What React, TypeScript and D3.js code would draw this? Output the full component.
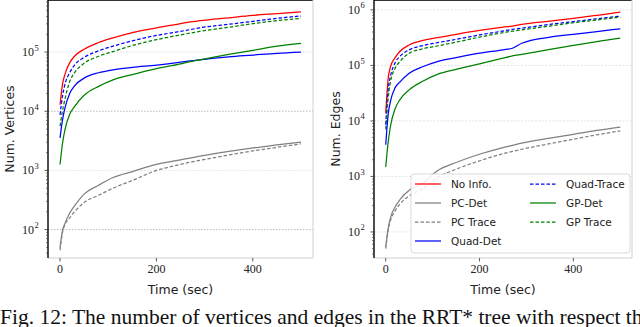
import React from "react";
import * as d3 from "d3";

// time stamps (sec) shared by every series
const time = [0, 5, 10, 20, 30, 50, 80, 110, 150, 200, 250, 270, 290, 350, 400, 450, 500];

// number of vertices
const vNoInfo = [12900, 28200, 41700, 66100, 85100, 112000, 145000, 174000, 214000, 257000, 302000, 324000, 339000, 380000, 417000, 447000, 479000];
const vPcDet = [50, 95, 126, 191, 251, 398, 562, 759, 955, 1260, 1510, 1620, 1740, 2090, 2400, 2690, 3020];
const vPcTrace = [45, 89, 120, 158, 200, 288, 380, 501, 676, 1000, 1260, 1380, 1480, 1820, 2140, 2450, 2820];
const vQuadDet = [3550, 7080, 11200, 20000, 26900, 36300, 44700, 50100, 55000, 60300, 67600, 70800, 74100, 83200, 89100, 95500, 100000];
const vQuadTrace = [8710, 17800, 28200, 44700, 60300, 81300, 105000, 126000, 155000, 191000, 224000, 240000, 257000, 295000, 331000, 372000, 407000];
const vGpDet = [1260, 2820, 4790, 8910, 12000, 18600, 26300, 33900, 41700, 52500, 63100, 69200, 74100, 91200, 107000, 126000, 141000];
const vGpTrace = [5620, 10000, 15800, 31600, 44700, 64600, 85100, 102000, 129000, 162000, 195000, 209000, 224000, 263000, 302000, 339000, 372000];

// number of edges
const eNoInfo = [13800, 56200, 93300, 138000, 178000, 234000, 282000, 316000, 363000, 427000, 490000, 513000, 550000, 631000, 708000, 794000, 912000];
const ePcDet = [54, 112, 178, 282, 380, 562, 759, 1260, 1780, 2510, 3310, 3630, 3980, 4900, 5750, 6760, 7760];
const ePcTrace = [50, 105, 158, 240, 316, 447, 603, 955, 1350, 1910, 2570, 2820, 3090, 3890, 4680, 5620, 6610];
const eQuadDet = [3720, 12600, 22400, 39800, 50100, 72400, 95500, 117000, 138000, 166000, 191000, 204000, 251000, 324000, 363000, 407000, 457000];
const eQuadTrace = [8510, 35500, 63100, 112000, 145000, 191000, 229000, 257000, 295000, 355000, 417000, 447000, 468000, 550000, 617000, 692000, 776000];
const eGpDet = [1480, 3980, 7940, 16600, 24000, 36300, 52500, 69200, 85100, 107000, 135000, 148000, 158000, 195000, 229000, 269000, 309000];
const eGpTrace = [7080, 25100, 50100, 89100, 117000, 166000, 200000, 224000, 263000, 324000, 389000, 417000, 437000, 513000, 589000, 661000, 741000];

const seriesNames = ["No Info.", "PC-Det", "PC Trace", "Quad-Det", "Quad-Trace", "GP-Det", "GP Trace"];
const seriesColors = ["#ff0000", "#808080", "#808080", "#0000ff", "#0000ff", "#008000", "#008000"];
const seriesDashed = [false, false, true, false, true, false, true];

const xTicks = [0, 200, 400];

const serif = "'Liberation Serif', 'DejaVu Serif', serif";
const sans = "'DejaVu Sans', sans-serif";

type PanelProps = {
  x0: number;
  x1: number;
  yDomain: [number, number];
  yTicks: number[];
  darkGrid: number[];
  gridDash: string;
  data: number[][];
  yLabel: string;
  legend?: boolean;
};

const Panel = ({ x0, x1, yDomain, yTicks, darkGrid, gridDash, data, yLabel, legend }: PanelProps) => {
  const top = 0;
  const bottom = 258;
  const x = d3.scaleLinear().domain([-25, 525]).range([x0, x1]);
  const y = d3.scaleLog().domain(yDomain).range([bottom, top]);

  const line = d3
    .line<number>()
    .x((_, i) => x(time[i]))
    .y((d) => y(d))
    .curve(d3.curveMonotoneX);

  // minor log ticks inside the domain
  const minor: number[] = [];
  for (let e = 1; e <= 6; e++) {
    for (let m = 2; m <= 9; m++) {
      const v = m * Math.pow(10, e);
      if (v >= yDomain[0] && v <= yDomain[1]) minor.push(v);
    }
  }

  const order = [0, 4, 6, 3, 5, 1, 2];

  return (
    <g>
      {/* grid */}
      {yTicks.map((t) => (
        <line
          key={"g" + t}
          x1={x0}
          x2={x1}
          y1={y(t)}
          y2={y(t)}
          stroke={darkGrid.includes(t) ? "#a8a8a8" : "#dcdcdc"}
          strokeWidth={0.8}
          strokeDasharray={gridDash}
        />
      ))}

      {/* series */}
      {order.map((k) => (
        <path
          key={"s" + k}
          d={line(data[k]) || ""}
          fill="none"
          stroke={seriesColors[k]}
          strokeWidth={1.25}
          strokeDasharray={seriesDashed[k] ? "3.5,2" : undefined}
        />
      ))}

      {/* spines */}
      <line x1={x0} x2={x1} y1={top + 0.5} y2={top + 0.5} stroke="#333" strokeWidth={1} />
      <line x1={x1} x2={x1} y1={top} y2={bottom} stroke="#d0d0d0" strokeWidth={1} />
      <line x1={x0} x2={x1} y1={bottom} y2={bottom} stroke="#d0d0d0" strokeWidth={1} />
      <line x1={x0} x2={x0} y1={top} y2={bottom} stroke="#000" strokeWidth={1.4} />

      {/* y ticks */}
      {minor.map((v) => (
        <line key={"m" + v} x1={x0 - 2} x2={x0} y1={y(v)} y2={y(v)} stroke="#333" strokeWidth={0.6} />
      ))}
      {yTicks.map((t) => {
        const exp = Math.round(Math.log10(t));
        return (
          <g key={"t" + t}>
            <line x1={x0 - 3.5} x2={x0} y1={y(t)} y2={y(t)} stroke="#333" strokeWidth={0.8} />
            <text x={x0 - 14} y={y(t) + 4} textAnchor="end" fontFamily={serif} fontSize={12} fill="#222">
              10
            </text>
            <text x={x0 - 13.5} y={y(t) - 1.5} textAnchor="start" fontFamily={serif} fontSize={8.5} fill="#222">
              {exp}
            </text>
          </g>
        );
      })}

      {/* x ticks */}
      {xTicks.map((t) => (
        <g key={"x" + t}>
          <line x1={x(t)} x2={x(t)} y1={bottom} y2={bottom + 3.5} stroke="#333" strokeWidth={0.8} />
          <text x={x(t)} y={bottom + 15} textAnchor="middle" fontFamily={serif} fontSize={12} fill="#222">
            {t}
          </text>
        </g>
      ))}

      {/* axis titles */}
      <text
        x={(x0 + x1) / 2}
        y={bottom + 36}
        textAnchor="middle"
        fontFamily={sans}
        fontSize={12.5}
        fill="#222"
      >
        Time (sec)
      </text>
      <text
        transform={`translate(${x0 - 34},${(top + bottom) / 2}) rotate(-90)`}
        textAnchor="middle"
        fontFamily={sans}
        fontSize={12.5}
        fill="#222"
      >
        {yLabel}
      </text>

      {legend && (
        <g>
          <rect x={411} y={174} width={219} height={79} rx={3} fill="#fff" fillOpacity={0.85} stroke="#d0d0d0" strokeWidth={0.8} />
          {seriesNames.map((name, i) => {
            const col = i < 4 ? 0 : 1;
            const row = i < 4 ? i : i - 4;
            const lx = col === 0 ? 415 : 530;
            const ly = 184 + row * 19;
            return (
              <g key={"l" + i}>
                <line
                  x1={lx}
                  x2={lx + 26}
                  y1={ly}
                  y2={ly}
                  stroke={seriesColors[i]}
                  strokeWidth={1.25}
                  strokeDasharray={seriesDashed[i] ? "3.5,2" : undefined}
                />
                <text x={lx + 36} y={ly + 4} fontFamily={sans} fontSize={10.5} fill="#222">
                  {name}
                </text>
              </g>
            );
          })}
        </g>
      )}
    </g>
  );
};

const App = () => {
  const vertices = [vNoInfo, vPcDet, vPcTrace, vQuadDet, vQuadTrace, vGpDet, vGpTrace];
  const edges = [eNoInfo, ePcDet, ePcTrace, eQuadDet, eQuadTrace, eGpDet, eGpTrace];

  return (
    <svg
      width={640}
      height={327}
      style={{ position: "absolute", left: 0, top: 0, background: "#fff" }}
    >
      <Panel
        x0={48}
        x1={313}
        yDomain={[33.1, 759000]}
        yTicks={[100, 1000, 10000, 100000]}
        darkGrid={[100, 10000]}
        gridDash="1.5,1.5"
        data={vertices}
        yLabel="Num. Vertices"
      />
      <Panel
        x0={374}
        x1={632}
        yDomain={[33.9, 1510000]}
        yTicks={[100, 1000, 10000, 100000, 1000000]}
        darkGrid={[]}
        gridDash="2,1.5"
        data={edges}
        yLabel="Num. Edges"
        legend
      />
      <text x={0} y={324} fontFamily={serif} fontSize={21.5} fill="#111">
        Fig. 12: The number of vertices and edges in the RRT* tree with respect the
      </text>
    </svg>
  );
};

export default App;
